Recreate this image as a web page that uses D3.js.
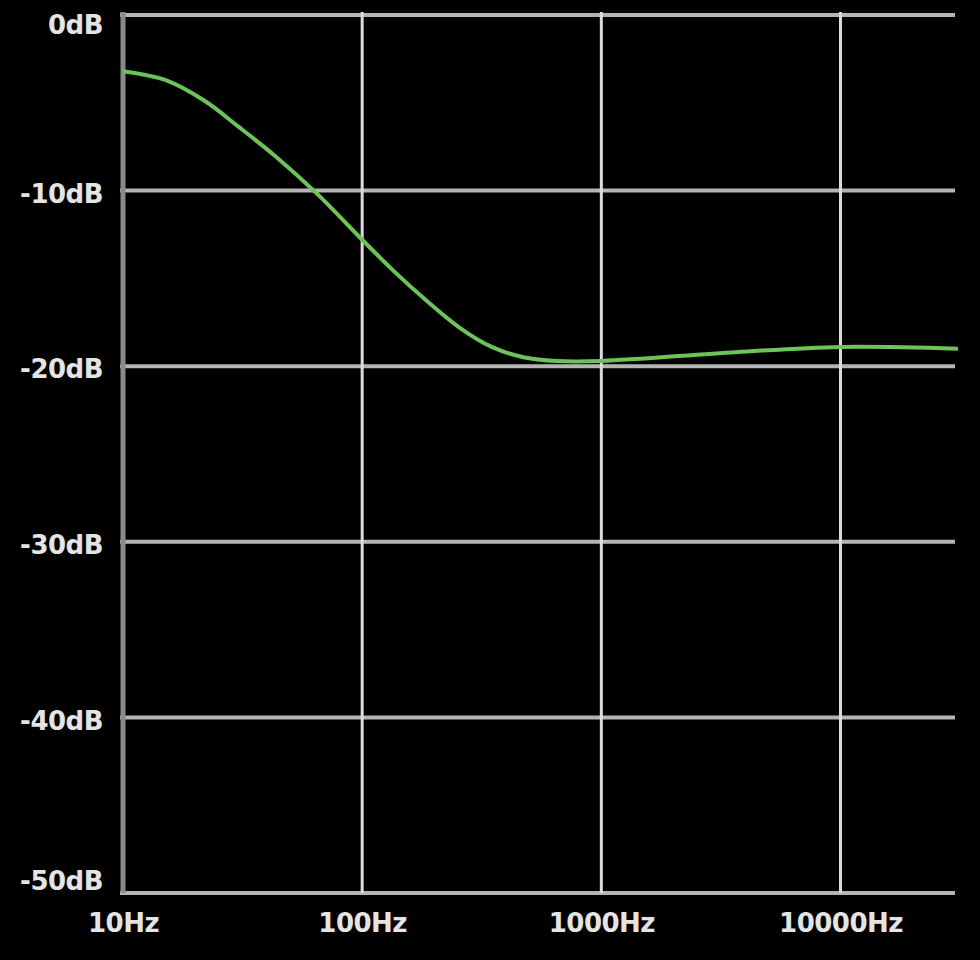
<!DOCTYPE html>
<html>
<head>
<meta charset="utf-8">
<script src="https://cdn.jsdelivr.net/npm/d3@7"></script>
<style>
    body { margin: 0; background: #000; }
    svg { display: block; }
    .axis text { font-family: "DejaVu Sans", Verdana, sans-serif; font-weight: bold; font-size: 26px; fill: #e4e4e4; }
</style>
</head>
<body>
<div id="chart"></div>
<script>

// frequency response
var freqs = [10, 15, 22, 30, 43, 65, 100, 136, 187, 255, 348, 477, 650, 1000, 3650, 10000, 31000];
var gains = [-3.2, -3.7, -4.9, -6.3, -8.0, -10.2, -12.8, -14.6, -16.3, -17.8, -18.9, -19.5, -19.7, -19.7, -19.2, -18.9, -19.0];

var xTicks = [10, 100, 1000, 10000];
var yTicks = [0, -10, -20, -30, -40, -50];

var width = 980;
var height = 960;
var margin = { left: 123, top: 15, right: 22, bottom: 67 };

var svg = d3.select('#chart')
    .append('svg')
    .attr('width', width)
    .attr('height', height)
    .style('background', '#000');

var x = d3.scaleLog()
    .domain([10, 31000])
    .range([margin.left, width - margin.right]);

var y = d3.scaleLinear()
    .domain([-50, 0])
    .range([height - margin.bottom, margin.top]);

// horizontal grid
svg.append('g')
    .selectAll('line')
    .data(yTicks)
    .enter()
    .append('line')
    .attr('x1', x.range()[0] - 3)
    .attr('x2', x.range()[1] - 3)
    .attr('y1', d => y(d))
    .attr('y2', d => y(d))
    .style('stroke', '#b4b4b4')
    .style('stroke-width', 4);

// vertical grid
svg.append('g')
    .selectAll('line')
    .data(xTicks)
    .enter()
    .append('line')
    .attr('x1', d => x(d))
    .attr('x2', d => x(d))
    .attr('y1', y(0) - 3)
    .attr('y2', y(-50))
    .style('stroke', d => d == 10 ? '#8a8a8a' : '#dcdcdc')
    .style('stroke-width', d => d == 10 ? 5 : 3);

var xAxis = svg.append('g')
    .attr('class', 'axis')
    .attr('transform', 'translate(0,' + (height - margin.bottom) + ')')
    .call(d3.axisBottom(x).tickValues(xTicks).tickFormat(d => d + 'Hz').tickSize(0).tickPadding(21));
xAxis.select('.domain').remove();
xAxis.selectAll('text').attr('dy', '0.71em').attr('letter-spacing', -0.5);

var yAxis = svg.append('g')
    .attr('class', 'axis')
    .attr('transform', 'translate(' + (margin.left - 20) + ',0)')
    .call(d3.axisLeft(y).tickValues(yTicks).tickFormat(d => d + 'dB').tickSize(0).tickPadding(0));
yAxis.select('.domain').remove();
yAxis.selectAll('text')
    .attr('letter-spacing', -0.5)
    .attr('dy', d => d == 0 ? '0.7em' : (d == -50 ? '-0.15em' : '0.45em'));

var line = d3.line()
    .x((d, i) => x(freqs[i]))
    .y(d => y(d))
    .curve(d3.curveCatmullRom.alpha(0.5));

svg.append('path')
    .datum(gains)
    .attr('d', line)
    .style('fill', 'none')
    .style('stroke', '#6cc35a')
    .style('stroke-width', 4);

</script>
</body>
</html>
